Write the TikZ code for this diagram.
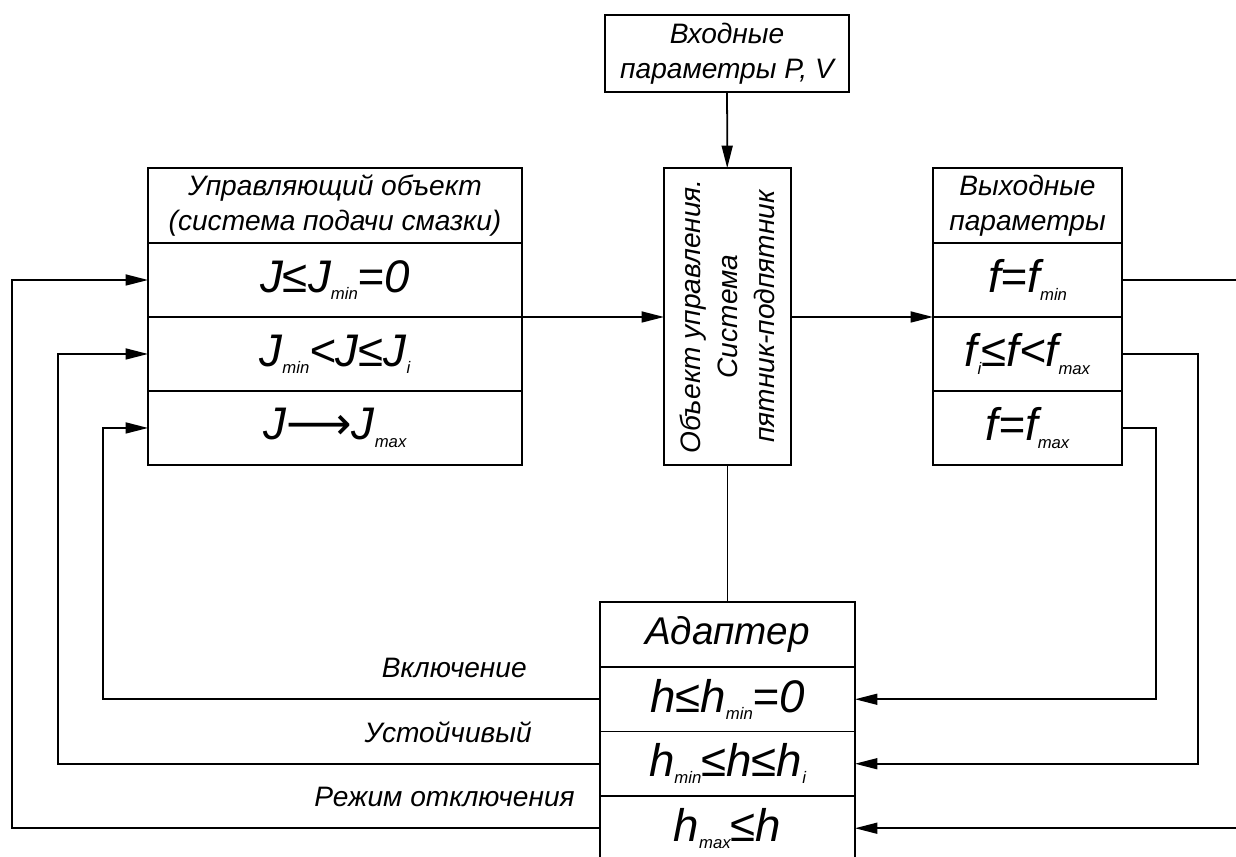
\documentclass[tikz,border=0pt]{standalone}
\usepackage{fontspec}
\setmainfont{Liberation Sans}
\newfontfamily\arrowfont{DejaVu Sans}
\usetikzlibrary{arrows.meta,positioning}

\newcommand{\lowix}[1]{\raisebox{-0.3ex}{\fontsize{9.5}{9.5}\selectfont #1}}

\tikzset{
  blk/.style={draw, line width=1pt, inner sep=0pt, outer sep=0pt, align=center,
    font=\fontsize{16}{20}\selectfont\itshape},
  frm/.style={draw, line width=1pt, inner sep=0pt, outer sep=0pt, align=center,
    font=\fontsize{26}{26}\selectfont\itshape},
  lbl/.style={font=\fontsize{16}{20}\selectfont\itshape, anchor=east, inner sep=0pt},
  fb/.style={line width=1pt, -{Triangle[length=4.5mm,width=2.2mm]}},
  ln/.style={line width=1pt}
}

\begin{document}
\begin{tikzpicture}[x=0.02cm,y=-0.02cm]
    \useasboundingbox (0,0) rectangle (1236,856);
    \clip (0,0) rectangle (1236,856);
    % input and plant
    \node[blk, minimum width=4.88cm, minimum height=1.54cm] (inp) at (727,53.5)
      {Входные\\параметры P, V};
    \node[blk, minimum width=2.54cm, minimum height=5.94cm] (obj) at (727.5,316.5) {};
    \node[rotate=90, align=center, font=\fontsize{16}{21}\selectfont\itshape] (objtxt)
      at (obj.center) {Объект управления.\\Система\\пятник-подпятник};
    % control object
    \node[blk, minimum width=7.48cm, minimum height=1.5cm] (uh) at (335,205.5)
      {Управляющий объект\\(система подачи смазки)};
    \node[frm, minimum width=7.48cm, minimum height=1.48cm, below=0pt of uh] (u1)
      {J≤J\lowix{min}=0};
    \node[frm, minimum width=7.48cm, minimum height=1.48cm, below=0pt of u1] (u2)
      {J\lowix{min}<J≤J\lowix{i}};
    \node[frm, minimum width=7.48cm, minimum height=1.48cm, below=0pt of u2] (u3)
      {J{\arrowfont ⟶}J\lowix{max}};
    % output
    \node[blk, minimum width=3.78cm, minimum height=1.5cm] (vh) at (1027.5,205.5)
      {Выходные\\параметры};
    \node[frm, minimum width=3.78cm, minimum height=1.48cm, below=0pt of vh] (v1)
      {f=f\lowix{min}};
    \node[frm, minimum width=3.78cm, minimum height=1.48cm, below=0pt of v1] (v2)
      {f\lowix{i}≤f<f\lowix{max}};
    \node[frm, minimum width=3.78cm, minimum height=1.48cm, below=0pt of v2] (v3)
      {f=f\lowix{max}};
    % adapter
    \node[blk, font=\fontsize{22}{22}\selectfont\itshape, minimum width=5.1cm,
      minimum height=1.3cm] (ah) at (727.5,634.5) {Адаптер};
    \node[frm, minimum width=5.1cm, minimum height=1.29cm, below=0pt of ah] (a1)
      {h≤h\lowix{min}=0};
    \node[frm, minimum width=5.1cm, minimum height=1.29cm, below=0pt of a1] (a2)
      {h\lowix{min}≤h≤h\lowix{i}};
    \node[frm, minimum width=5.1cm, minimum height=1.29cm, below=0pt of a2] (a3)
      {h\lowix{max}≤h};
    % loose ends
    \coordinate (vout) at (1240,280);
    \coordinate (ain) at (1240,828);
    % labels
    \node[lbl] (lon) at (527,668) {Включение};
    \node[lbl] (lst) at (532,732) {Устойчивый};
    \node[lbl] (loff) at (575,797) {Режим отключения};
    % connections
    \draw[fb] (inp) -- (obj);
    \draw[fb] (u1.south east) -- (u1.south east -| obj.west);
    \draw[fb] (obj.east |- v1.south west) -- (v1.south west);
    \draw[ln] (obj) -- (ah);
    \draw[ln] (v1.east) -- (v1.east -| vout);
    \draw[fb] (v2.east) -- ++(76,0) |- (a2.east);
    \draw[fb] (v3.east) -- ++(34,0) |- (a1.east);
    \draw[fb] (a3.east -| ain) -- (a3.east);
    \draw[fb] (a1.west) -- ++(-497,0) |- (u3.west);
    \draw[fb] (a2.west) -- ++(-542,0) |- (u2.west);
    \draw[fb] (a3.west) -- ++(-588,0) |- (u1.west);
\end{tikzpicture}
\end{document}
